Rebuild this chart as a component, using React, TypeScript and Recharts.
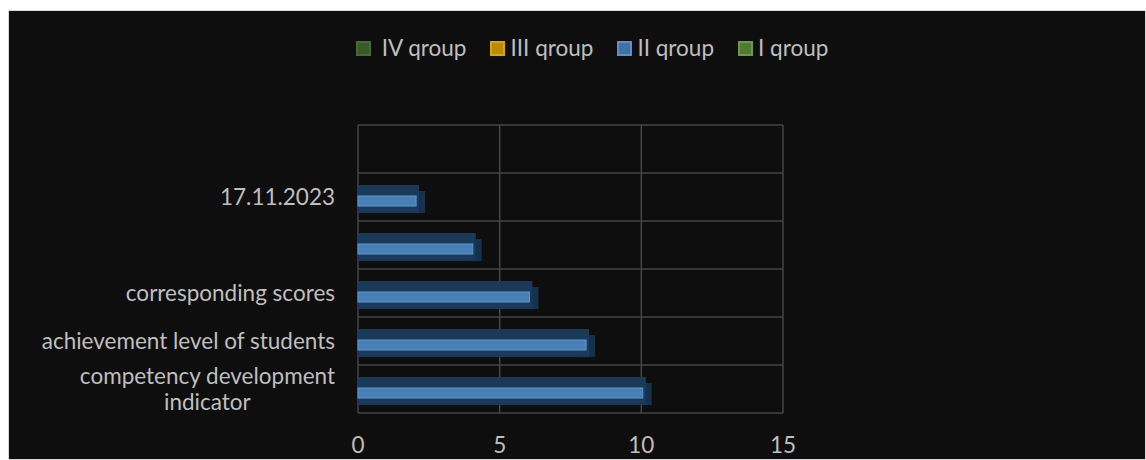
import React from "react";
import { BarChart, Bar, XAxis, YAxis, CartesianGrid, Legend } from "recharts";

const categories = [
  "",
  "17.11.2023",
  "",
  "corresponding scores",
  "achievement level of students",
  "competency development indicator",
];
const groupIV: (number | null)[] = [null, null, null, null, null, null];
const groupIII: (number | null)[] = [null, null, null, null, null, null];
const groupII: (number | null)[] = [null, 2.05, 4.05, 6.05, 8.05, 10.05];
const groupI: (number | null)[] = [null, null, null, null, null, null];
const seriesKeys = ["iv", "iii", "ii", "i"];
const seriesNames = [" IV qroup", "III qroup", "II qroup", "I qroup"];
const xTicks = [0, 5, 10, 15];

const data = categories.map((name, i) => ({
  name,
  iv: groupIV[i],
  iii: groupIII[i],
  ii: groupII[i],
  i: groupI[i],
}));

const FONT = "Lato, 'Noto Sans', sans-serif";
const TEXT = "#bfbfbf";
const FS = 22.5;

const legendStyle: Record<string, { fill: string; border: string }> = {
  iv: { fill: "#375a26", border: "#466b31" },
  iii: { fill: "#b88a00", border: "#e0a400" },
  ii: { fill: "#4472a0", border: "#5b8fd0" },
  i: { fill: "#4e7a32", border: "#6a9a42" },
};

const wrapWords = (s: string, maxChars: number) => {
  const words = String(s).split(" ");
  const lines: string[] = [];
  let cur = "";
  words.forEach((w) => {
    const next = cur ? cur + " " + w : w;
    if (next.length > maxChars && cur) {
      lines.push(cur);
      cur = w;
    } else {
      cur = next;
    }
  });
  if (cur) lines.push(cur);
  return lines;
};

const LegendContent = (props: any) => {
  const payload = [...(props.payload || [])].sort(
    (a: any, b: any) => seriesKeys.indexOf(a.dataKey) - seriesKeys.indexOf(b.dataKey)
  );
  return (
    <div style={{ display: "flex", alignItems: "center", fontFamily: FONT, fontSize: FS, color: TEXT }}>
      {payload.map((p: any, idx: number) => {
        const st = legendStyle[p.dataKey] || { fill: p.color, border: p.color };
        return (
          <div key={idx} style={{ display: "flex", alignItems: "center", marginRight: 24 }}>
            <span
              style={{
                display: "inline-block",
                width: 11,
                height: 11,
                background: st.fill,
                border: `2px solid ${st.border}`,
                marginRight: 5,
              }}
            />
            <span style={{ whiteSpace: "pre", lineHeight: "24px" }}>{p.value}</span>
          </div>
        );
      })}
    </div>
  );
};

const YTick = (props: any) => {
  const { x, y, payload } = props;
  const lines = wrapWords(payload.value, 30);
  return (
    <foreignObject x={x - 340} y={y - 30} width={340} height={60}>
      <div
        style={{
          display: "flex",
          justifyContent: "flex-end",
          alignItems: "center",
          height: "100%",
        }}
      >
        <div
          style={{
            textAlign: "center",
            lineHeight: "26px",
            fontSize: FS,
            color: TEXT,
            fontFamily: FONT,
            whiteSpace: "nowrap",
          }}
        >
          {lines.map((l, i) => (
            <div key={i}>{l}</div>
          ))}
        </div>
      </div>
    </foreignObject>
  );
};

const GlowBar = (props: any) => {
  const { x, y, width, height } = props;
  if (!width || width <= 0) return <g />;
  return (
    <g>
      <rect x={x} y={y + 8} width={width + 9} height={height - 6} fill="#16314c" />
      <rect x={x} y={y + 2} width={width + 3} height={height} fill="#1a3a5a" />
      <rect x={x} y={y + 13} width={width} height={10} fill="#4a7fb6" stroke="#5d95cf" strokeWidth={1} />
    </g>
  );
};

export default function App() {
  return (
    <div
      style={{
        position: "fixed",
        left: 8,
        top: 10,
        width: 1136,
        height: 448,
        border: "1px solid #d9d9d9",
        background: "#0e0e0e",
      }}
    >
      <BarChart
        width={1136}
        height={448}
        data={data}
        layout="vertical"
        margin={{ top: 114, right: 362, left: 0, bottom: 6 }}
        barSize={28}
      >
        <CartesianGrid
          stroke="#454545"
          strokeWidth={1.5}
          horizontalCoordinatesGenerator={(p: any) => {
            const top = p.offset.top;
            const h = p.offset.height;
            return categories.map((_, i) => top + (i * h) / categories.length).concat([top + h]);
          }}
        />
        <XAxis
          type="number"
          domain={[0, 15]}
          ticks={xTicks}
          axisLine={false}
          tickLine={false}
          tickSize={0}
          tickMargin={24}
          height={40}
          tick={{ fill: TEXT, fontSize: FS, fontFamily: FONT }}
        />
        <YAxis
          type="category"
          dataKey="name"
          width={349}
          axisLine={false}
          tickLine={false}
          tickSize={0}
          tickMargin={23}
          interval={0}
          tick={<YTick />}
        />
        <Legend
          layout="horizontal"
          verticalAlign="middle"
          align="center"
          wrapperStyle={{ top: 25, left: 347, width: 700 }}
          content={<LegendContent />}
        />
        <Bar dataKey="iv" name={seriesNames[0]} stackId="s" fill="#375a26" isAnimationActive={false} />
        <Bar dataKey="iii" name={seriesNames[1]} stackId="s" fill="#b88a00" isAnimationActive={false} />
        <Bar dataKey="ii" name={seriesNames[2]} stackId="s" fill="#4472a0" isAnimationActive={false} shape={<GlowBar />} />
        <Bar dataKey="i" name={seriesNames[3]} stackId="s" fill="#4e7a32" isAnimationActive={false} />
      </BarChart>
    </div>
  );
}
